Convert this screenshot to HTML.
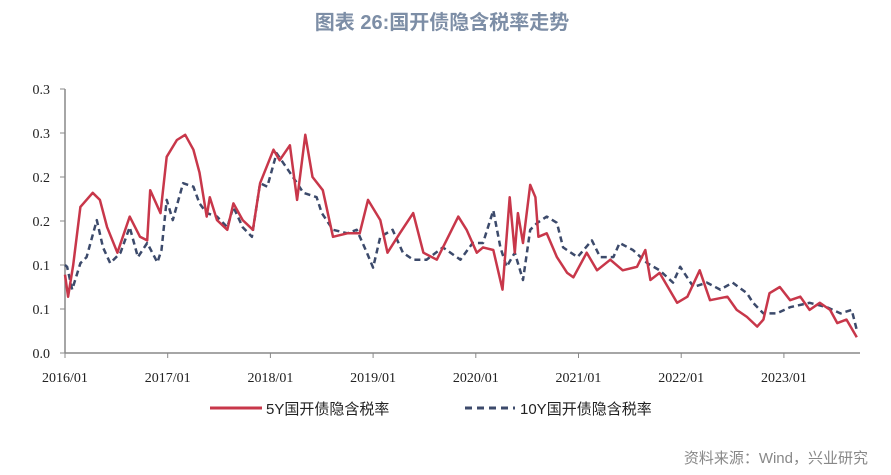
<!DOCTYPE html>
<html><head><meta charset="utf-8"><style>
body{margin:0;background:#fff;}
svg{display:block;}
</style></head><body>
<svg width="891" height="475" xmlns="http://www.w3.org/2000/svg">
<text x="442" y="29" text-anchor="middle" font-family="Liberation Sans, Noto Sans CJK SC, sans-serif" font-size="20" font-weight="bold" fill="#7d8ea6">图表 26:国开债隐含税率走势</text>
<g id="axes"></g>
<g id="series"></g>
<g>
<line x1="210" y1="408" x2="262" y2="408" stroke="#c8374a" stroke-width="3"/>
<text x="266" y="414" font-family="Liberation Sans, Noto Sans CJK SC, sans-serif" font-size="15" fill="#222">5Y国开债隐含税率</text>
<line x1="465" y1="408" x2="515" y2="408" stroke="#3c4a6b" stroke-width="3" stroke-dasharray="7 5"/>
<text x="520" y="414" font-family="Liberation Sans, Noto Sans CJK SC, sans-serif" font-size="15" fill="#222">10Y国开债隐含税率</text>
</g>
<text x="868" y="463" text-anchor="end" font-family="Liberation Sans, Noto Sans CJK SC, sans-serif" font-size="15" fill="#888">资料来源：Wind，兴业研究</text>
</svg>
<script>
const xTickLabels=["2016/01","2017/01","2018/01","2019/01","2020/01","2021/01","2022/01","2023/01"];
const xTickYears=[2016,2017,2018,2019,2020,2021,2022,2023];
const yTickValues=[0,0.05,0.1,0.15,0.2,0.25,0.3];
const yTickLabels=["0.0","0.1","0.1","0.2","0.2","0.3","0.3"];
const dates5y=[2016.00,2016.03,2016.08,2016.15,2016.27,2016.34,2016.41,2016.51,2016.63,2016.73,2016.80,2016.83,2016.93,2016.99,2017.09,2017.17,2017.25,2017.31,2017.38,2017.41,2017.48,2017.58,2017.64,2017.73,2017.83,2017.90,2018.03,2018.09,2018.19,2018.26,2018.34,2018.41,2018.51,2018.61,2018.75,2018.87,2018.95,2019.07,2019.14,2019.26,2019.39,2019.49,2019.62,2019.83,2019.91,2020.01,2020.07,2020.17,2020.26,2020.33,2020.38,2020.41,2020.46,2020.53,2020.58,2020.61,2020.69,2020.79,2020.89,2020.95,2021.08,2021.18,2021.31,2021.43,2021.57,2021.65,2021.70,2021.79,2021.96,2022.06,2022.18,2022.28,2022.45,2022.54,2022.64,2022.74,2022.80,2022.86,2022.96,2023.06,2023.16,2023.25,2023.35,2023.45,2023.52,2023.61,2023.71];
const values5y=[.089,.064,.100,.166,.182,.174,.143,.114,.155,.132,.128,.185,.159,.223,.242,.248,.231,.205,.155,.177,.151,.140,.170,.151,.140,.193,.231,.219,.236,.174,.248,.200,.185,.132,.136,.136,.174,.151,.114,.136,.159,.114,.106,.155,.140,.114,.120,.117,.072,.177,.114,.159,.125,.191,.177,.132,.136,.109,.091,.086,.114,.094,.106,.094,.098,.117,.083,.091,.057,.064,.094,.060,.064,.049,.041,.030,.038,.068,.075,.060,.064,.049,.057,.049,.034,.038,.018];
const dates10y=[2016.00,2016.02,2016.07,2016.15,2016.21,2016.31,2016.37,2016.44,2016.54,2016.63,2016.71,2016.80,2016.90,2016.94,2016.99,2017.05,2017.15,2017.25,2017.31,2017.38,2017.48,2017.58,2017.64,2017.73,2017.82,2017.90,2017.97,2018.06,2018.19,2018.26,2018.32,2018.45,2018.50,2018.61,2018.75,2018.84,2018.94,2019.00,2019.07,2019.19,2019.29,2019.39,2019.52,2019.68,2019.85,2019.97,2020.07,2020.17,2020.24,2020.30,2020.38,2020.46,2020.53,2020.60,2020.69,2020.79,2020.85,2020.99,2021.13,2021.21,2021.34,2021.40,2021.53,2021.67,2021.79,2021.92,2021.99,2022.12,2022.25,2022.38,2022.50,2022.64,2022.70,2022.80,2022.93,2023.06,2023.25,2023.42,2023.55,2023.66,2023.71];
const values10y=[.100,.098,.072,.102,.109,.151,.120,.102,.114,.143,.109,.125,.103,.117,.174,.151,.193,.189,.170,.159,.155,.143,.166,.143,.132,.193,.189,.227,.205,.193,.182,.177,.159,.140,.136,.140,.114,.097,.132,.140,.114,.106,.106,.120,.106,.125,.125,.162,.120,.098,.114,.083,.140,.148,.155,.148,.120,.109,.128,.109,.109,.125,.117,.102,.094,.080,.098,.075,.080,.072,.080,.068,.057,.045,.045,.052,.057,.052,.045,.049,.026];

const NS='http://www.w3.org/2000/svg';
function xScale(yr){return 65+(yr-2016)*102.7;}
function yScale(v){return 353-v*880;}
const axes=document.getElementById('axes');
const series=document.getElementById('series');
function mk(tag,attrs,parent){const e=document.createElementNS(NS,tag);for(const k in attrs)e.setAttribute(k,attrs[k]);parent.appendChild(e);return e;}
const ya=mk('line',{x1:65,y1:89,x2:65,y2:353,stroke:'#888','stroke-width':1.5},axes);


const xa=mk('line',{x1:65,y1:353,x2:860,y2:353,stroke:'#888','stroke-width':1.5},axes);


yTickValues.forEach((v,i)=>{
  const y=yScale(v);
  const t=mk('line',{x1:60,y1:y,x2:65,y2:y,stroke:'#888','stroke-width':1},axes);
  
  
  const l=mk('text',{x:50,y:y+5,'text-anchor':'end','font-family':'Liberation Serif, serif','font-size':14,fill:'#222'},axes);
  l.textContent=yTickLabels[i];
  
  
});
xTickYears.forEach((yr,i)=>{
  const x=xScale(yr);
  const t=mk('line',{x1:x,y1:353,x2:x,y2:358,stroke:'#888','stroke-width':1},axes);
  
  
  const l=mk('text',{x:x,y:382,'text-anchor':'middle','font-family':'Liberation Serif, serif','font-size':14,fill:'#222'},axes);
  l.textContent=xTickLabels[i];
  
  
});
function path(ds,vs){return ds.map((d,i)=>(i?'L':'M')+xScale(d).toFixed(1)+','+yScale(vs[i]).toFixed(1)).join('');}
const p10=mk('path',{d:path(dates10y,values10y),fill:'none',stroke:'#3c4a6b','stroke-width':2.5,'stroke-dasharray':'6 4','stroke-linejoin':'round'},series);


const p5=mk('path',{d:path(dates5y,values5y),fill:'none',stroke:'#c8374a','stroke-width':2.5,'stroke-linejoin':'round'},series);


</script>
</body></html>
